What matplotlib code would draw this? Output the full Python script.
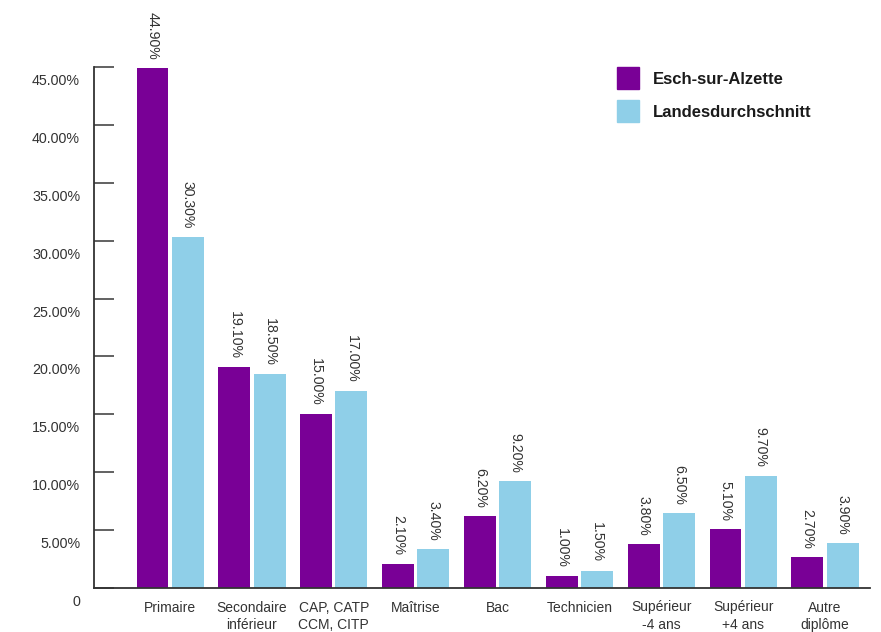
import numpy as np
import matplotlib.pyplot as plt
from matplotlib.lines import Line2D
from matplotlib.transforms import ScaledTranslation

# Bildungsniveau: Esch-sur-Alzette vs Landesdurchschnitt (in %)
categories = ['Primaire', 'Secondaire\ninférieur', 'CAP, CATP\nCCM, CITP', 'Maîtrise', 'Bac',
              'Technicien', 'Supérieur\n-4 ans', 'Supérieur\n+4 ans', 'Autre\ndiplôme']
esch = [44.9, 19.1, 15.0, 2.1, 6.2, 1.0, 3.8, 5.1, 2.7]
landes = [30.3, 18.5, 17.0, 3.4, 9.2, 1.5, 6.5, 9.7, 3.9]
series_names = ['Esch-sur-Alzette', 'Landesdurchschnitt']
yticks = [0, 5, 10, 15, 20, 25, 30, 35, 40, 45]
ytick_labels = ['0'] + [f'{v:.2f}%' for v in yticks[1:]]

PURPLE = '#790096'
BLUE = '#8fcfe8'
TEXT = '#333333'

plt.rcParams['font.family'] = ['Liberation Sans', 'DejaVu Sans']

fig = plt.figure(figsize=(8.81, 6.32), dpi=100)
ax = fig.add_axes([94 / 881, 1 - 588 / 632, (870 - 94) / 881, (588 - 67) / 632])

x = np.arange(len(categories))
w = 0.39
off = 0.215
b1 = ax.bar(x - off, esch, w, color=PURPLE)
b2 = ax.bar(x + off, landes, w, color=BLUE)

# value labels above bars, rotated
for bars, vals in ((b1, esch), (b2, landes)):
    for rect, v in zip(bars, vals):
        ax.annotate(f'{v:.2f}%', (rect.get_x() + rect.get_width() / 2, rect.get_height()),
                    xytext=(0, 6), textcoords='offset points', rotation=-90,
                    ha='center', va='bottom', fontsize=10.2, color=TEXT,
                    annotation_clip=False)

ax.set_xlim(-0.93, 8.55)
ax.set_ylim(0, 45)
ax.set_xticks(x)
ax.set_xticklabels(categories, fontsize=10, color=TEXT, linespacing=1.3)
ax.tick_params(axis='x', length=0, pad=9)
ax.set_yticks(yticks)
ax.set_yticklabels(ytick_labels, fontsize=10.3, color=TEXT)
ax.tick_params(axis='y', direction='in', length=14.5, width=1.3, color='#555555', pad=10)
for lab in ax.get_yticklabels():
    lab.set_transform(lab.get_transform() + ScaledTranslation(0, -9 / 72, fig.dpi_scale_trans))

for s in ('top', 'right'):
    ax.spines[s].set_visible(False)
for s in ('left', 'bottom'):
    ax.spines[s].set_color('#333333')
    ax.spines[s].set_linewidth(1.3)

handles = [Line2D([], [], marker='s', linestyle='none', markersize=16.5, color=c)
           for c in (PURPLE, BLUE)]
leg = ax.legend(handles, series_names, loc='upper left', bbox_to_anchor=(605 / 881, 1 - 65 / 632),
                bbox_transform=fig.transFigure, frameon=False, handletextpad=0.45,
                labelspacing=1.1, prop={'weight': 'bold', 'size': 12}, borderaxespad=0)
for t in leg.get_texts():
    t.set_color('#1a1a1a')

fig.savefig('out.png', dpi=100)
